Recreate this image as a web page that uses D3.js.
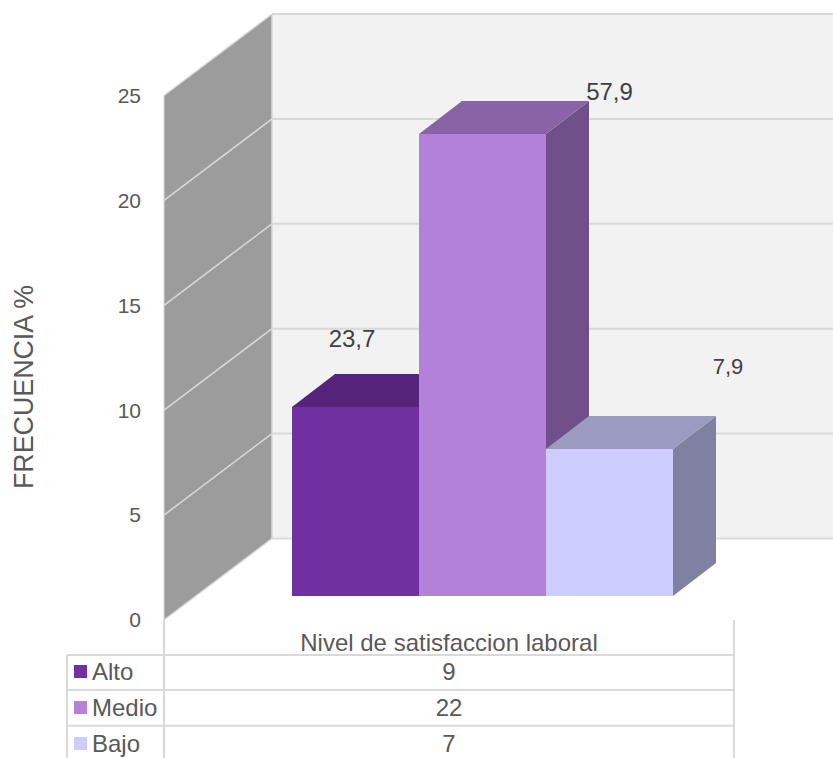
<!DOCTYPE html>
<html>
<head>
<meta charset="utf-8">
<script src="https://cdn.jsdelivr.net/npm/d3@7/dist/d3.min.js"></script>
<style>
html,body{margin:0;padding:0;background:#fff;overflow:hidden}
text{font-family:"Liberation Sans",Arial,sans-serif;fill:#595959}
</style>
</head>
<body>
<svg id="chart" width="833" height="758"></svg>
<script>
// Survey results: job satisfaction level
const categories = ["Alto", "Medio", "Bajo"];
const frequencies = [9, 22, 7];
const percentLabels = ["23,7", "57,9", "7,9"];
const axisTicks = [0, 5, 10, 15, 20, 25];
const faceColors = ["#7030a0", "#b381d9", "#ccccff"];
const topColors = ["#552379", "#8a63a6", "#9b9bc1"];
const sideColors = ["#552379", "#6f5088", "#8080a3"];
const axisTitle = "FRECUENCIA %";
const categoryTitle = "Nivel de satisfaccion laboral";

const svg = d3.select("#chart");
const gridColor = "#d9d9d9";

// Three value scales, one per depth plane of the 3D box
const yFront = d3.scaleLinear().domain([0, 25]).range([620, 95.5]);
const yBack = d3.scaleLinear().domain([0, 25]).range([538.5, 14]);
const yBar = d3.scaleLinear().domain([0, 25]).range([596, 71]);
const xBar = d3.scaleBand().domain(categories).range([292, 673]);

const wallLeft = 164, wallRight = 272, wallEnd = 833;
const depthX = 43, depthY = 33;
const pts = p => p.map(d => d.join(",")).join(" ");

// Back wall
svg.append("rect")
  .attr("x", wallRight).attr("y", yBack(25))
  .attr("width", wallEnd - wallRight).attr("height", yBack(0) - yBack(25))
  .attr("fill", "#f2f2f2");

// Side wall
svg.append("polygon")
  .attr("points", pts([[wallLeft, yFront(25)], [wallRight, yBack(25)], [wallRight, yBack(0)], [wallLeft, yFront(0)]]))
  .attr("fill", "#9c9c9c");

// Gridlines across both walls
svg.append("g").selectAll("line.back").data(axisTicks).join("line")
  .attr("class", "back")
  .attr("x1", wallRight).attr("x2", wallEnd)
  .attr("y1", d => yBack(d)).attr("y2", d => yBack(d))
  .attr("stroke", gridColor).attr("stroke-width", 2);
svg.append("g").selectAll("line.side").data(axisTicks).join("line")
  .attr("class", "side")
  .attr("x1", wallLeft).attr("x2", wallRight)
  .attr("y1", d => yFront(d)).attr("y2", d => yBack(d))
  .attr("stroke", gridColor).attr("stroke-width", 1.5);
svg.append("line")
  .attr("x1", wallRight).attr("x2", wallRight)
  .attr("y1", yBack(25)).attr("y2", yBack(0))
  .attr("stroke", gridColor).attr("stroke-width", 1.5);
svg.append("line")
  .attr("x1", wallLeft).attr("x2", wallLeft)
  .attr("y1", yFront(25)).attr("y2", yFront(0))
  .attr("stroke", gridColor).attr("stroke-width", 1);

// Bars, back faces first so the nearer ones overlap correctly
const bars = svg.append("g").selectAll("g").data(categories).join("g");
bars.append("polygon")
  .attr("points", (c, i) => {
    const r = xBar(c) + xBar.bandwidth(), t = yBar(frequencies[i]), b = yBar(0);
    return pts([[r, t], [r + depthX, t - depthY], [r + depthX, b - depthY], [r, b]]);
  })
  .attr("fill", (c, i) => sideColors[i]);
bars.append("polygon")
  .attr("points", (c, i) => {
    const l = xBar(c), r = l + xBar.bandwidth(), t = yBar(frequencies[i]);
    return pts([[l, t], [l + depthX, t - depthY], [r + depthX, t - depthY], [r, t]]);
  })
  .attr("fill", (c, i) => topColors[i]);
bars.append("rect")
  .attr("x", c => xBar(c))
  .attr("y", (c, i) => yBar(frequencies[i]))
  .attr("width", xBar.bandwidth())
  .attr("height", (c, i) => yBar(0) - yBar(frequencies[i]))
  .attr("fill", (c, i) => faceColors[i]);

// Percentage labels above the bars
const labelPos = [[352, 339], [609.5, 92], [728, 366]];
svg.append("g").selectAll("text").data(percentLabels).join("text")
  .attr("x", (d, i) => labelPos[i][0]).attr("y", (d, i) => labelPos[i][1])
  .attr("dy", "0.35em").attr("text-anchor", "middle")
  .attr("font-size", (d, i) => i === 2 ? 22 : 24)
  .style("fill", "#404040")
  .text(d => d);

// Value axis labels
svg.append("g").selectAll("text").data(axisTicks).join("text")
  .attr("x", 141).attr("y", d => yFront(d))
  .attr("dy", "0.35em").attr("text-anchor", "end")
  .attr("font-size", 21)
  .text(d => d);

// Rotated axis title
svg.append("text")
  .attr("transform", "translate(24,387) rotate(-90)")
  .attr("dy", "0.35em").attr("text-anchor", "middle")
  .attr("font-size", 26.8)
  .text(axisTitle);

// Data table under the chart
const rowY = d3.scalePoint().domain(categories).range([671.5, 743.5]);
const tableLeft = 67, tableKey = 164, tableRight = 734;
const rowLines = [655, 690, 725.7];
const table = svg.append("g").attr("stroke", gridColor).attr("stroke-width", 2);
table.selectAll("line.row").data(rowLines).join("line")
  .attr("class", "row")
  .attr("x1", tableLeft).attr("x2", tableRight)
  .attr("y1", d => d).attr("y2", d => d);
table.append("line").attr("x1", tableLeft).attr("x2", tableLeft).attr("y1", 655).attr("y2", 758);
table.append("line").attr("x1", tableKey).attr("x2", tableKey).attr("y1", 620).attr("y2", 758);
table.append("line").attr("x1", tableRight).attr("x2", tableRight).attr("y1", 620).attr("y2", 758);

svg.append("text")
  .attr("x", 449).attr("y", 642.5).attr("dy", "0.35em")
  .attr("text-anchor", "middle").attr("font-size", 24)
  .text(categoryTitle);

const rows = svg.append("g").selectAll("g").data(categories).join("g");
rows.append("rect")
  .attr("x", 74).attr("y", c => rowY(c) - 6.5)
  .attr("width", 13).attr("height", 13)
  .attr("fill", (c, i) => faceColors[i]);
rows.append("text")
  .attr("x", 92).attr("y", c => rowY(c)).attr("dy", "0.35em")
  .attr("font-size", 24)
  .text(c => c);
rows.append("text")
  .attr("x", 449).attr("y", c => rowY(c)).attr("dy", "0.35em")
  .attr("text-anchor", "middle").attr("font-size", 24)
  .text((c, i) => frequencies[i]);
</script>
</body>
</html>
